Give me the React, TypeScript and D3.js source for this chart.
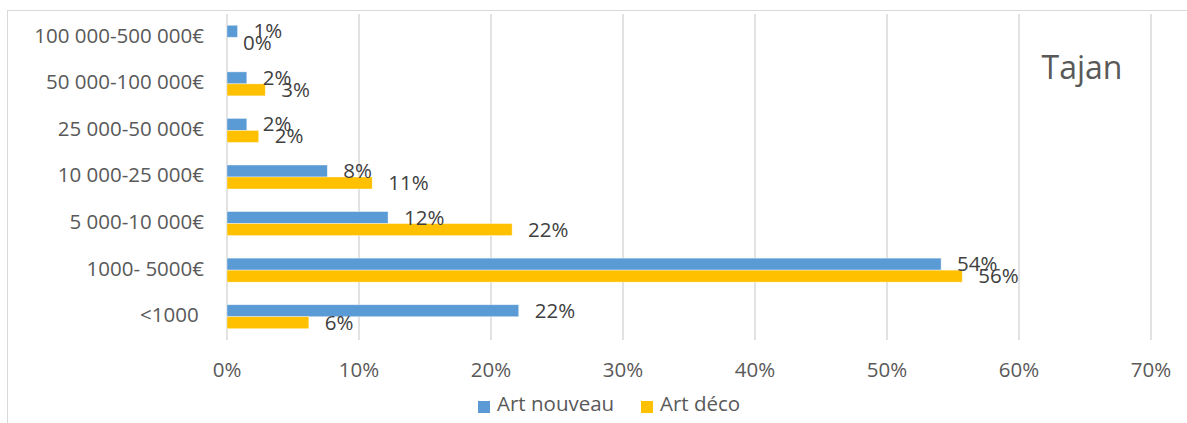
import React from "react";
import * as d3 from "d3";

// categories, top to bottom
const categories = [
  "100 000-500 000€",
  "50 000-100 000€",
  "25 000-50 000€",
  "10 000-25 000€",
  "5 000-10 000€",
  "1000- 5000€",
  "<1000 ",
];
const seriesNames = ["Art nouveau", "Art déco"];
const artNouveau = [0.8, 1.5, 1.5, 7.6, 12.2, 54.1, 22.1];
const artDeco = [0, 2.9, 2.4, 11.0, 21.6, 55.7, 6.2];
const nouveauLabels = ["1%", "2%", "2%", "8%", "12%", "54%", "22%"];
const decoLabels = ["0%", "3%", "2%", "11%", "22%", "56%", "6%"];
const xTicks = [0, 10, 20, 30, 40, 50, 60, 70];
const colors = ["#5B9BD5", "#FFC000"];

const W = 1187;
const H = 423;
const font = "'Open Sans', Lato, sans-serif";
const textColor = "#595959";
const fs = 20.5;

const App = () => {
  const x = d3.scaleLinear().domain([0, 70]).range([227, 1151]);
  const y = d3.scaleBand().domain(categories).range([14, 340]).paddingInner(0.485).paddingOuter(0.2425);
  const sub = d3.scaleBand().domain(seriesNames).range([0, y.bandwidth()]);
  const series = [
    { name: seriesNames[0], values: artNouveau, labels: nouveauLabels },
    { name: seriesNames[1], values: artDeco, labels: decoLabels },
  ];

  return (
    <svg width={W} height={H} style={{ position: "absolute", left: 0, top: 0, background: "#fff" }}>
      {/* chart border */}
      <rect x={7.5} y={10.5} width={1250} height={500} fill="none" stroke="#D9D9D9" />

      {/* gridlines */}
      {xTicks.map((t) => (
        <line key={t} x1={x(t)} x2={x(t)} y1={14} y2={340} stroke="#D9D9D9" strokeWidth={1.5} />
      ))}

      {/* bars */}
      {series.map((s, si) =>
        categories.map((c, i) => (
          <rect
            key={s.name + c}
            x={x(0)}
            y={(y(c) as number) + (sub(s.name) as number)}
            width={x(s.values[i]) - x(0)}
            height={sub.bandwidth()}
            fill={colors[si]}
            stroke="#fff"
            strokeOpacity={0.5}
            strokeWidth={0.75}
          />
        ))
      )}

      {/* data labels */}
      {series.map((s) =>
        categories.map((c, i) => (
          <text
            key={"l" + s.name + c}
            x={x(s.values[i]) + 16}
            y={(y(c) as number) + (sub(s.name) as number) + sub.bandwidth() / 2 + 1.5}
            dominantBaseline="middle"
            fontFamily={font}
            fontSize={fs}
            fill="#404040"
          >
            {s.labels[i]}
          </text>
        ))
      )}

      {/* category labels */}
      {categories.map((c) => (
        <text
          key={"c" + c}
          x={204}
          y={(y(c) as number) + y.bandwidth() / 2}
          textAnchor="end"
          dominantBaseline="middle"
          fontFamily={font}
          fontSize={fs}
          fill={textColor}
          style={{ whiteSpace: "pre" }}
        >
          {c}
        </text>
      ))}

      {/* x tick labels */}
      {xTicks.map((t) => (
        <text
          key={"t" + t}
          x={x(t)}
          y={372}
          textAnchor="middle"
          dominantBaseline="middle"
          fontFamily={font}
          fontSize={fs}
          fill={textColor}
        >
          {t + "%"}
        </text>
      ))}

      {/* title inside plot */}
      <text x={1082} y={70} textAnchor="middle" dominantBaseline="middle" fontFamily={font} fontSize={32} fill={textColor}>
        Tajan
      </text>

      {/* legend */}
      {[
        { name: seriesNames[0], sx: 478, tx: 497 },
        { name: seriesNames[1], sx: 641, tx: 660 },
      ].map((l, i) => (
        <g key={l.name}>
          <rect x={l.sx} y={401} width={12} height={12} fill={colors[i]} />
          <text x={l.tx} y={406} dominantBaseline="middle" fontFamily={font} fontSize={fs} fill={textColor}>
            {l.name}
          </text>
        </g>
      ))}
    </svg>
  );
};

export default App;
